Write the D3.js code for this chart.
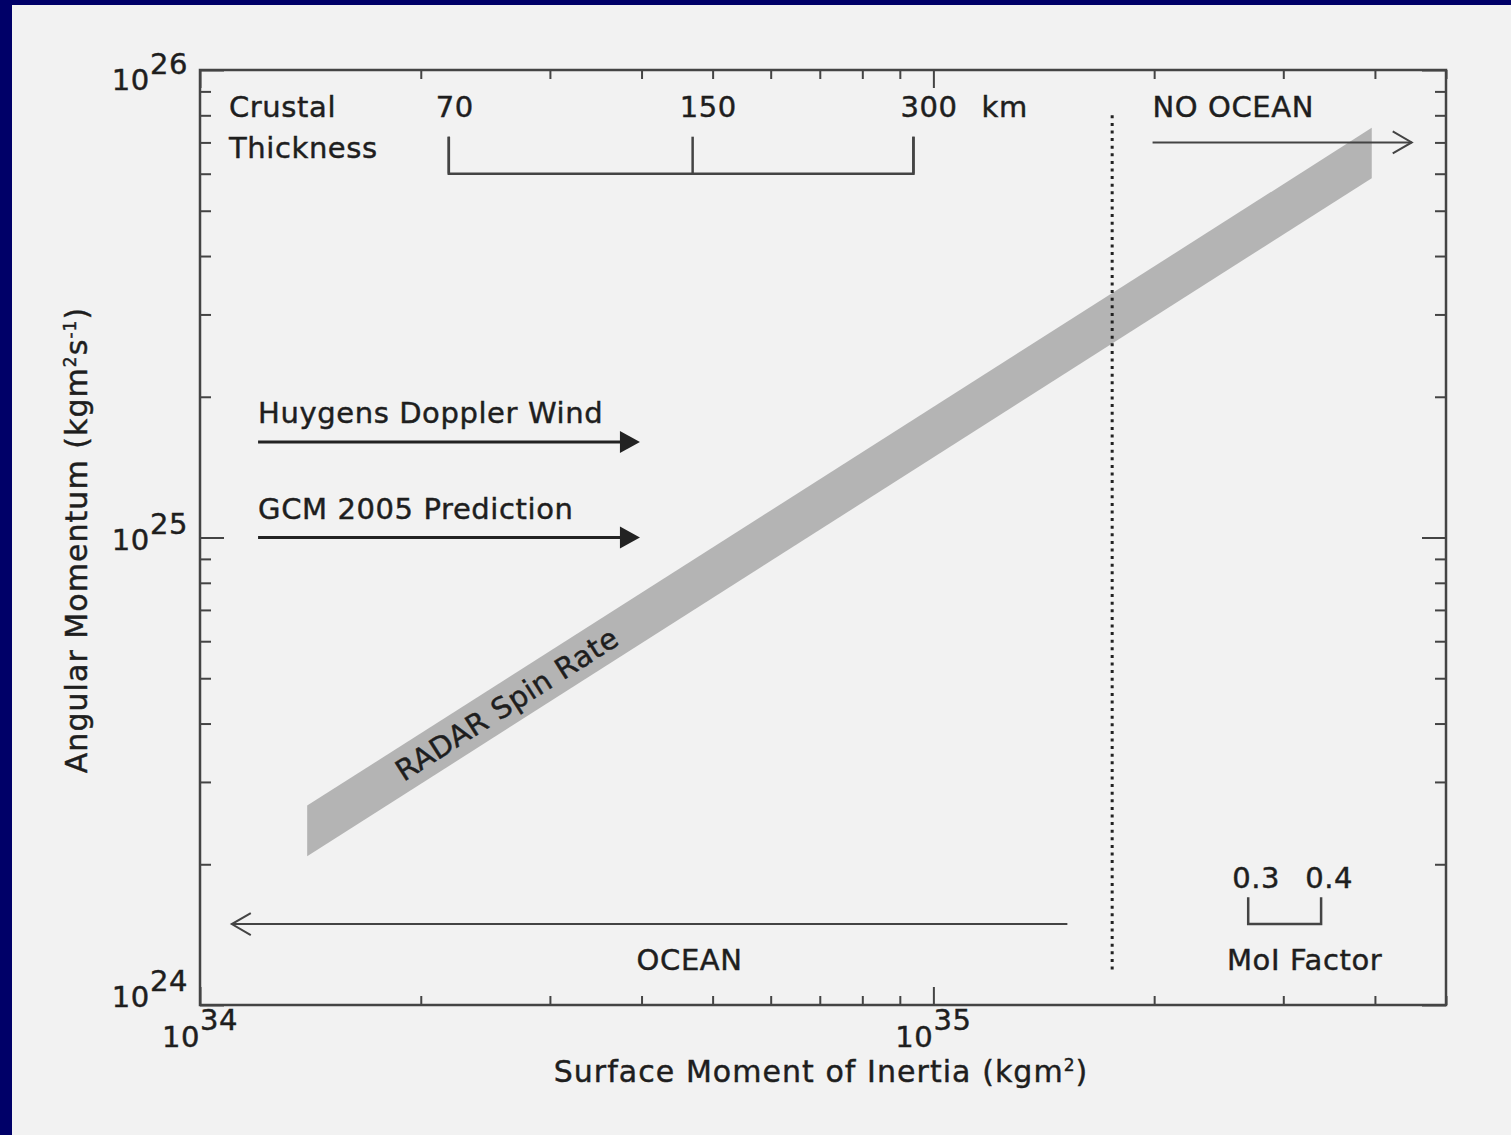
<!DOCTYPE html>
<html>
<head>
<meta charset="utf-8">
<script src="https://cdn.jsdelivr.net/npm/d3@7"></script>
<style>
  html, body { margin: 0; padding: 0; background: #000068; }
  svg { display: block; }
  text { font-family: "DejaVu Sans", sans-serif; fill: #1e1e1e; stroke: #1e1e1e; stroke-width: 0.45px; letter-spacing: 0.6px; }
  text.title { letter-spacing: 1.05px; }
</style>
</head>
<body>
<svg id="chart" width="1511" height="1135"></svg>
<script>
// Axis ranges: surface moment of inertia (kg m^2) and angular momentum (kg m^2 s^-1)
const xDomain = [1e34, 5e35];
const yDomain = [1e24, 1e26];
const xMajorTicks = [1e34, 1e35];
const yMajorTicks = [1e24, 1e25, 1e26];
const xTickExponents = ["34", "35"];
const yTickExponents = ["24", "25", "26"];

// RADAR spin-rate band: upper and lower angular momentum edges vs moment of inertia
const bandInertia = [1.4e34, 3.96e35];
const bandUpper = [2.67e24, 7.52e25];
const bandLower = [2.08e24, 5.87e25];
const bandLabel = "RADAR Spin Rate";
const bandLabelInertia = 2.62e34;

// Atmospheric angular momentum estimates (arrows pointing right)
const windNames = ["Huygens Doppler Wind", "GCM 2005 Prediction"];
const windMomentum = [1.6e25, 1.0e25];
const windInertiaStart = [1.2e34, 1.2e34];
const windInertiaEnd = [3.98e34, 3.98e34];

// Crustal thickness scale (km) and the moment of inertia each corresponds to
const crustThickness = ["70", "150", "300"];
const crustInertia = [2.184e34, 4.696e34, 9.393e34];
const crustBracketMomentum = [7.2e25, 6.0e25];

// Moment-of-inertia factor scale
const moiFactors = ["0.3", "0.4"];
const moiInertia = [2.687e35, 3.378e35];
const moiBracketMomentum = [1.70e24, 1.49e24];

// Ocean / no-ocean boundary and direction arrows
const boundaryInertia = 1.753e35;
const boundaryMomentum = [8.0e25, 1.19e24];
const oceanArrow = { from: 1.523e35, to: 1.105e34, momentum: 1.49e24 };
const noOceanArrow = { from: 1.99e35, to: 4.49e35, momentum: 7.0e25 };

const svg = d3.select("#chart");
const W = 1511, H = 1135;
const plot = { left: 200, right: 1446, top: 70, bottom: 1005 };
const ink = "#444";
const FS = 29;

// page background and frame
svg.append("rect").attr("x", 12).attr("y", 5).attr("width", W - 12).attr("height", H - 5).attr("fill", "#f2f2f2");

const x = d3.scaleLog().domain(xDomain).range([plot.left, plot.right]);
const y = d3.scaleLog().domain(yDomain).range([plot.bottom, plot.top]);

function minorTicks(domain) {
  const out = [];
  for (let e = Math.floor(Math.log10(domain[0])); e <= Math.ceil(Math.log10(domain[1])); e++) {
    for (let m = 2; m <= 9; m++) {
      const v = m * Math.pow(10, e);
      if (v > domain[0] && v < domain[1]) out.push(v);
    }
  }
  return out;
}
const xMinor = minorTicks(xDomain);
const yMinor = minorTicks(yDomain);

function tickAxis(axisFn, scale, values, size, transform) {
  const g = svg.append("g").attr("transform", transform)
    .call(axisFn(scale).tickValues(values).tickSize(size).tickFormat(""));
  g.select(".domain").remove();
  g.selectAll(".tick line").attr("stroke", ink).attr("stroke-width", 2);
  return g;
}
const plotH = plot.bottom - plot.top, plotW = plot.right - plot.left;
// x ticks on bottom and top, pointing inward
tickAxis(d3.axisBottom, x, xMajorTicks, -18, `translate(0,${plot.bottom})`);
tickAxis(d3.axisBottom, x, xMinor, -9, `translate(0,${plot.bottom})`);
tickAxis(d3.axisTop, x, xMajorTicks, -18, `translate(0,${plot.top})`);
tickAxis(d3.axisTop, x, xMinor, -9, `translate(0,${plot.top})`);
// y ticks on left and right, pointing inward
tickAxis(d3.axisLeft, y, yMajorTicks, -24, `translate(${plot.left},0)`);
tickAxis(d3.axisLeft, y, yMinor, -11, `translate(${plot.left},0)`);
tickAxis(d3.axisRight, y, yMajorTicks, -24, `translate(${plot.right},0)`);
tickAxis(d3.axisRight, y, yMinor, -11, `translate(${plot.right},0)`);

// band
const bandPts = bandInertia.map((v, i) => [x(v), y(bandUpper[i])])
  .concat(bandInertia.map((v, i) => [x(v), y(bandLower[i])]).reverse());
svg.append("path").attr("d", d3.line()(bandPts) + "Z").attr("fill", "#b4b4b4");

// band label along the band centre line
{
  const ang = Math.atan2(y(bandUpper[1]) - y(bandUpper[0]), x(bandInertia[1]) - x(bandInertia[0])) * 180 / Math.PI;
  const t = Math.log(bandLabelInertia / bandInertia[0]) / Math.log(bandInertia[1] / bandInertia[0]);
  const yu = y(bandUpper[0]) + t * (y(bandUpper[1]) - y(bandUpper[0]));
  const yl = y(bandLower[0]) + t * (y(bandLower[1]) - y(bandLower[0]));
  svg.append("text")
    .attr("transform", `translate(${x(bandLabelInertia)},${(yu + yl) / 2}) rotate(${ang})`)
    .attr("text-anchor", "middle").attr("dy", "0.36em")
    .attr("font-size", FS).text(bandLabel);
}

// frame
svg.append("rect").attr("x", plot.left).attr("y", plot.top).attr("width", plotW).attr("height", plotH)
  .attr("fill", "none").attr("stroke", ink).attr("stroke-width", 2.5);

// tick labels
yMajorTicks.forEach((v, i) => {
  const shift = i === yMajorTicks.length - 1 ? 20 : (i === 0 ? 2 : 12);
  const t = svg.append("text").attr("x", 188).attr("y", y(v) + shift)
    .attr("text-anchor", "end").attr("font-size", FS);
  t.append("tspan").text("10");
  t.append("tspan").attr("dy", -16).text(yTickExponents[i]);
});
xMajorTicks.forEach((v, i) => {
  const t = svg.append("text").attr("x", x(v)).attr("y", plot.bottom + 42)
    .attr("text-anchor", "middle").attr("font-size", FS);
  t.append("tspan").text("10");
  t.append("tspan").attr("dy", -17).text(xTickExponents[i]);
});

// axis titles
{
  const t = svg.append("text").attr("class", "title").attr("x", 821).attr("y", 1082)
    .attr("text-anchor", "middle").attr("font-size", FS + 1);
  t.append("tspan").text("Surface Moment of Inertia (kgm");
  t.append("tspan").attr("font-size", 17).attr("dy", -11).text("2");
  t.append("tspan").attr("dy", 11).text(")");
}
{
  const t = svg.append("text").attr("class", "title").attr("transform", "translate(87,540) rotate(-90)")
    .attr("text-anchor", "middle").attr("font-size", FS + 1);
  t.append("tspan").text("Angular Momentum (kgm");
  t.append("tspan").attr("font-size", 17).attr("dy", -11).text("2");
  t.append("tspan").attr("dy", 11).text("s");
  t.append("tspan").attr("font-size", 17).attr("dy", -11).text("-1");
  t.append("tspan").attr("dy", 11).text(")");
}

// crustal thickness scale
svg.append("text").attr("x", 229).attr("y", 117).attr("font-size", FS).text("Crustal");
svg.append("text").attr("x", 229).attr("y", 158).attr("font-size", FS).text("Thickness");
{
  const yt = y(crustBracketMomentum[0]), yb = y(crustBracketMomentum[1]);
  const g = svg.append("g").attr("stroke", ink).attr("stroke-width", 2.5).attr("fill", "none");
  g.append("path").attr("d", d3.line()([[x(crustInertia[0]), yt], [x(crustInertia[0]), yb],
    [x(crustInertia[crustInertia.length - 1]), yb], [x(crustInertia[crustInertia.length - 1]), yt]]));
  crustInertia.forEach(v => g.append("line").attr("x1", x(v)).attr("x2", x(v)).attr("y1", yt).attr("y2", yb));
  let lastEnd = 0;
  crustThickness.forEach((s, i) => {
    const t = svg.append("text").attr("x", x(crustInertia[i]) - 13).attr("y", 117).attr("font-size", FS).text(s);
    lastEnd = x(crustInertia[i]) - 13 + t.node().getComputedTextLength();
  });
  svg.append("text").attr("x", lastEnd + 24).attr("y", 117).attr("font-size", FS).text("km");
}

// wind arrows
windNames.forEach((name, i) => {
  const yy = y(windMomentum[i]);
  const x0 = x(windInertiaStart[i]), x1 = x(windInertiaEnd[i]);
  svg.append("text").attr("x", x0).attr("y", yy - 19).attr("font-size", FS).text(name);
  svg.append("line").attr("x1", x0).attr("x2", x1 - 12).attr("y1", yy).attr("y2", yy)
    .attr("stroke", "#222").attr("stroke-width", 3);
  svg.append("path").attr("d", d3.line()([[x1 - 20, yy - 11], [x1, yy], [x1 - 20, yy + 11]]) + "Z")
    .attr("fill", "#222");
});

// ocean boundary
svg.append("line").attr("x1", x(boundaryInertia)).attr("x2", x(boundaryInertia))
  .attr("y1", y(boundaryMomentum[0])).attr("y2", y(boundaryMomentum[1]))
  .attr("stroke", "#222").attr("stroke-width", 3).attr("stroke-dasharray", "3,4.6");

function openArrow(a) {
  const yy = y(a.momentum), x0 = x(a.from), x1 = x(a.to);
  const dir = Math.sign(x1 - x0);
  const g = svg.append("g").attr("stroke", ink).attr("stroke-width", 2).attr("fill", "none");
  g.append("line").attr("x1", x0).attr("x2", x1).attr("y1", yy).attr("y2", yy);
  g.append("path").attr("d", d3.line()([[x1 - dir * 19, yy - 11], [x1, yy], [x1 - dir * 19, yy + 11]]));
}
openArrow(oceanArrow);
openArrow(noOceanArrow);
svg.append("text").attr("x", (x(oceanArrow.from) + x(oceanArrow.to)) / 2 + 40).attr("y", 970)
  .attr("text-anchor", "middle").attr("font-size", FS).text("OCEAN");
svg.append("text").attr("x", x(noOceanArrow.from)).attr("y", 117).attr("font-size", FS).text("NO OCEAN");

// MoI factor scale
{
  const yt = y(moiBracketMomentum[0]), yb = y(moiBracketMomentum[1]);
  svg.append("path").attr("d", d3.line()([[x(moiInertia[0]), yt], [x(moiInertia[0]), yb],
    [x(moiInertia[1]), yb], [x(moiInertia[1]), yt]]))
    .attr("stroke", ink).attr("stroke-width", 2.5).attr("fill", "none");
  moiFactors.forEach((s, i) => {
    svg.append("text").attr("x", x(moiInertia[i]) + 8).attr("y", 888)
      .attr("text-anchor", "middle").attr("font-size", FS).text(s);
  });
  svg.append("text").attr("x", (x(moiInertia[0]) + x(moiInertia[1])) / 2 + 20).attr("y", 970)
    .attr("text-anchor", "middle").attr("font-size", FS).text("MoI Factor");
}
</script>
</body>
</html>
